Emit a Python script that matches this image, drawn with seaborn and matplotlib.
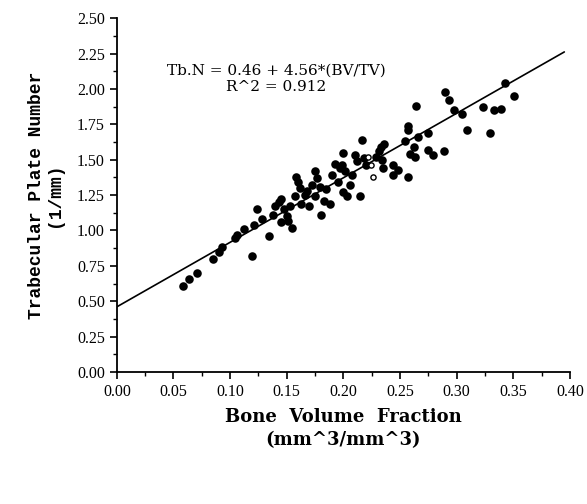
import numpy as np
import pandas as pd
import seaborn as sns
import matplotlib.pyplot as plt
from matplotlib.ticker import MultipleLocator

# bone volume fraction (x) and trabecular plate number (y)
bv_tv = [0.058, 0.064, 0.071, 0.085, 0.090, 0.093, 0.104, 0.106, 0.112, 0.119,
         0.121, 0.124, 0.128, 0.134, 0.138, 0.140, 0.143, 0.145, 0.145, 0.148,
         0.150, 0.151, 0.153, 0.155, 0.157, 0.158, 0.160, 0.162, 0.163, 0.166,
         0.168, 0.170, 0.172, 0.175, 0.175, 0.177, 0.179, 0.180, 0.183, 0.185,
         0.188, 0.190, 0.193, 0.195, 0.197, 0.199, 0.200, 0.201, 0.200, 0.203,
         0.206, 0.208, 0.210, 0.212, 0.215, 0.216, 0.218, 0.220, 0.229, 0.231,
         0.233, 0.236,
         0.234, 0.235, 0.244, 0.244, 0.248, 0.254, 0.257, 0.257, 0.257, 0.259,
         0.262, 0.263, 0.264, 0.266, 0.275, 0.275, 0.279, 0.289, 0.290, 0.293,
         0.298, 0.305, 0.309, 0.323, 0.329, 0.333, 0.339, 0.343, 0.351]
tb_n = [0.61, 0.66, 0.70, 0.80, 0.85, 0.88, 0.95, 0.97, 1.01, 0.82,
        1.04, 1.15, 1.08, 0.96, 1.11, 1.17, 1.20, 1.06, 1.22, 1.15,
        1.10, 1.07, 1.17, 1.02, 1.24, 1.38, 1.34, 1.30, 1.19, 1.25,
        1.28, 1.17, 1.32, 1.42, 1.24, 1.37, 1.31, 1.11, 1.21, 1.29,
        1.19, 1.39, 1.47, 1.34, 1.44, 1.46, 1.55, 1.42, 1.27, 1.24,
        1.32, 1.39, 1.53, 1.49, 1.24, 1.64, 1.51, 1.46, 1.52, 1.56,
        1.59, 1.61,
        1.50, 1.44, 1.46, 1.39, 1.43, 1.63, 1.74, 1.71, 1.38, 1.54,
        1.59, 1.52, 1.88, 1.66, 1.69, 1.57, 1.53, 1.56, 1.98, 1.92,
        1.85, 1.82, 1.71, 1.87, 1.69, 1.85, 1.86, 2.04, 1.95]

# the three faint open symbols in the middle of the cloud
open_bv = [0.222, 0.224, 0.226]
open_tb = [1.52, 1.46, 1.38]

intercept = 0.46
slope = 4.56
r2 = 0.912

df = pd.DataFrame({"bv": bv_tv, "tb": tb_n})

sns.set_style("ticks")
plt.rcParams["font.family"] = ["Liberation Serif", "DejaVu Serif"]
plt.rcParams["text.color"] = "black"
plt.rcParams["axes.labelcolor"] = "black"

fig = plt.figure(figsize=(5.87, 5.04), dpi=100)
ax = fig.add_axes([0.199, 0.262, 0.772, 0.702])

sns.scatterplot(data=df, x="bv", y="tb", ax=ax, color="black",
                s=38, edgecolor="black", linewidth=0, zorder=3)
ax.scatter(open_bv, open_tb, s=14, facecolor="white", edgecolor="black",
           linewidth=1.0, zorder=4)

fit_x = np.array([0.0, 0.395])
sns.lineplot(x=fit_x, y=intercept + slope * fit_x, ax=ax, color="black",
             linewidth=1.2, zorder=2)

ax.text(0.141, 2.13, f"Tb.N = {intercept:.2f} + {slope:.2f}*(BV/TV)",
        ha="center", va="center", fontsize=11, family=["DejaVu Serif"])
ax.text(0.141, 2.015, f"R^2 = {r2:.3f}", ha="center", va="center",
        fontsize=11, family=["DejaVu Serif"])

ax.set_xlim(0, 0.40)
ax.set_ylim(0, 2.50)
ax.xaxis.set_major_locator(MultipleLocator(0.05))
ax.xaxis.set_minor_locator(MultipleLocator(0.025))
ax.yaxis.set_major_locator(MultipleLocator(0.25))
ax.yaxis.set_minor_locator(MultipleLocator(0.125))
ax.xaxis.set_major_formatter(plt.FormatStrFormatter("%.2f"))
ax.yaxis.set_major_formatter(plt.FormatStrFormatter("%.2f"))

ax.tick_params(which="major", direction="out", length=5, width=1.2,
               labelsize=11.5, colors="black")
ax.tick_params(which="minor", direction="out", length=3, width=1.0,
               colors="black")
for side in ["left", "bottom"]:
    ax.spines[side].set_linewidth(1.3)
    ax.spines[side].set_color("black")
sns.despine(ax=ax)

ax.set_xlabel("Bone  Volume  Fraction\n(mm^3/mm^3)", fontsize=13,
              fontweight="bold", family=["DejaVu Serif"], labelpad=6,
              linespacing=1.35)
ax.set_ylabel("Trabecular Plate Number\n(1/mm)", fontsize=13,
              fontweight="bold", family=["Liberation Mono"], labelpad=10,
              linespacing=1.1)

fig.savefig("out.png", dpi=100)
